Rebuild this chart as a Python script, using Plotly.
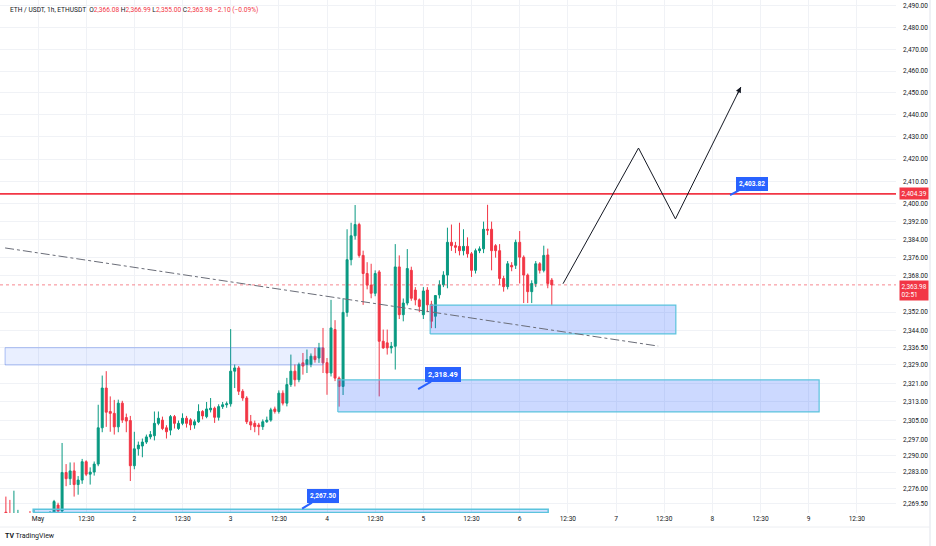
import math
import plotly.graph_objects as go

# ---------------- data ----------------
hours = list(range(-9, 129))  # hourly candles, 0 = May 1 00:00

opens = [2262, 2266, 2265, 2259, 2261, 2262, 2259, 2262, 2260,
         2263, 2259, 2262, 2263, 2265.5, 2269, 2266.5, 2282.8, 2280.2, 2283.5,
         2277.7, 2279.6, 2287.4, 2282.1, 2283, 2286.4, 2301.9, 2319, 2308.9, 2308.1,
         2302.3, 2312.5, 2306.3, 2305, 2285.7, 2292.9, 2294.1, 2295.8, 2298, 2298.5,
         2303.8, 2305.2, 2301.9, 2300.9, 2306.7, 2301.6, 2303.8, 2306, 2305.3, 2303.1,
         2304.5, 2308.9, 2306.7, 2309.6, 2310.3, 2306.4, 2311, 2311.8, 2312.2, 2326.3,
         2327.7, 2317.6, 2314.7, 2304.5, 2303.8, 2303.1, 2302.4, 2304.5, 2305.2, 2310,
         2308.9, 2316.8, 2312.5, 2320.5, 2326.3, 2322.6, 2329.9, 2329.2, 2329.2, 2332.8,
         2332, 2336.4, 2330, 2325.5, 2344.4, 2323.3, 2319.7, 2351.9, 2375.1, 2385.7,
         2390.7, 2377, 2369, 2363.9, 2360.3, 2369.7, 2339.3, 2338.6, 2336.4, 2337.1,
         2371.9, 2350.9, 2356, 2370.4, 2361.7, 2357.4, 2350.9, 2361.7, 2355.5, 2350.2,
         2359.6, 2364, 2368.3, 2382.8, 2381.3, 2381, 2379.1, 2381, 2377.7, 2370.4,
         2379.1, 2379.9, 2388.6, 2388.6, 2381.3, 2379.1, 2366.8, 2363.2, 2372.6, 2372.6,
         2382.8, 2376.2, 2368.3, 2361, 2364.6, 2373.3, 2370.4, 2377.2, 2366.08]
highs = [2264, 2272.6, 2271.2, 2275.1, 2267, 2264, 2264.5, 2266.5, 2267,
         2265, 2264, 2265, 2266.5, 2271.2, 2270, 2295.4, 2286.4, 2287.1, 2287.1,
         2281.3, 2288.6, 2288, 2285, 2287.5, 2311.8, 2324.4, 2326.3, 2315.4, 2313.9,
         2314, 2313.5, 2308, 2307, 2300.2, 2296, 2297.3, 2299, 2300.5, 2308.9,
         2308.9, 2306.7, 2303, 2307.4, 2307.4, 2305, 2308.1, 2307, 2306, 2305.5,
         2312, 2309.5, 2313, 2314.7, 2311, 2312, 2313, 2313.2, 2344.6, 2329.2,
         2328.5, 2318.5, 2315.5, 2307.4, 2305, 2304, 2305.5, 2306.7, 2310.5, 2311,
         2318, 2318, 2323.4, 2333.5, 2329.2, 2330, 2334.2, 2335.7, 2334, 2336.4,
         2338.6, 2345.1, 2332, 2357.4, 2348.5, 2324, 2358.1, 2388.6, 2391.5, 2399.4,
         2391.5, 2379.1, 2374, 2373.3, 2370.4, 2370.5, 2344.4, 2344.4, 2339, 2382,
         2377, 2358, 2379.8, 2372, 2363, 2358, 2363, 2363, 2357, 2359.5,
         2366, 2370, 2389.3, 2390.7, 2383, 2391.5, 2388.6, 2385, 2378.5, 2380,
         2381, 2392, 2399.5, 2392, 2382, 2382, 2368, 2374.5, 2374, 2384,
         2387.8, 2377, 2369, 2366, 2374.5, 2374, 2381.3, 2380, 2366.99]
lows = [2255, 2258, 2257, 2255, 2257, 2256, 2255, 2258, 2256,
        2256, 2254, 2258, 2259, 2264, 2264, 2265, 2277, 2277.5, 2272.6,
        2273.4, 2278, 2281.3, 2277.7, 2281.5, 2285.5, 2300, 2302.3, 2300.2, 2299,
        2300, 2304, 2300, 2279.2, 2284.2, 2290, 2289.3, 2295, 2297, 2296.5,
        2303, 2300.9, 2297.3, 2298.7, 2301.6, 2301, 2303, 2302, 2300.9, 2301.5,
        2304, 2305.5, 2306, 2308.5, 2304, 2305, 2310, 2310.5, 2311, 2319,
        2316, 2313.5, 2303.5, 2300.9, 2300, 2298.7, 2301, 2304, 2304.5, 2308,
        2308, 2311.5, 2311.1, 2319.5, 2319.7, 2321.5, 2324.8, 2325.5, 2328, 2330,
        2329.9, 2325.5, 2316.1, 2324, 2322, 2311, 2316, 2350, 2372.6, 2384,
        2376, 2355.2, 2362, 2358.1, 2359, 2315.4, 2336, 2333.5, 2334, 2327,
        2349, 2348, 2355, 2357, 2355, 2352, 2349, 2352, 2345, 2345,
        2358, 2363, 2362.5, 2379, 2378, 2377, 2377, 2376, 2367.5, 2369,
        2378, 2378, 2386, 2370.4, 2376, 2364, 2361, 2362, 2370, 2371,
        2364.6, 2356, 2356, 2356, 2363, 2369, 2369.5, 2362.5, 2355.00]
closes = [2258, 2260, 2259, 2263, 2263.5, 2259, 2262, 2260, 2263,
          2259, 2262, 2263, 2264, 2270.5, 2266.5, 2282.8, 2280.2, 2283.5, 2277.7,
          2279.6, 2287.4, 2282.1, 2283, 2286.4, 2301.9, 2319, 2308.6, 2308.1, 2302.3,
          2312.5, 2305.2, 2304.8, 2285.7, 2292.9, 2294.5, 2295.8, 2298, 2299, 2303.8,
          2306, 2301.6, 2300.2, 2306.7, 2303.8, 2303.8, 2306, 2303.8, 2303.1, 2304.5,
          2308.9, 2307, 2310, 2310.3, 2306.4, 2311, 2311.8, 2312.2, 2326.3, 2327.7,
          2317.6, 2314.7, 2304.5, 2303.1, 2302.4, 2302.4, 2304.5, 2305.2, 2309.6, 2308.9,
          2316.8, 2312.5, 2320.5, 2326.3, 2322.6, 2329.2, 2328.5, 2331.3, 2332.8, 2331.3,
          2336.4, 2329.9, 2325.5, 2345.1, 2323.3, 2319.7, 2351.9, 2375.1, 2385.7, 2390.7,
          2377, 2369, 2363.9, 2360.3, 2369, 2339.3, 2336.4, 2336.4, 2337.1, 2371.9,
          2350.9, 2356, 2371.2, 2358.1, 2357.4, 2354.5, 2361.3, 2355.2, 2348, 2359.3,
          2364, 2368.3, 2382.8, 2381.3, 2380.6, 2379.1, 2381, 2377.7, 2370.4, 2379.1,
          2379.9, 2388.6, 2388.2, 2379.1, 2379.1, 2366.8, 2363.2, 2373.3, 2371.9, 2382.8,
          2376.2, 2368.3, 2361, 2364.6, 2373.3, 2370.4, 2377, 2364.6, 2363.98]

x_tick_hours = [0, 12, 24, 36, 48, 60, 72, 84, 96, 108, 120, 132, 144, 156, 168, 180, 192, 204]
x_tick_text = ["May", "12:30", "2", "12:30", "3", "12:30", "4", "12:30", "5", "12:30",
               "6", "12:30", "7", "12:30", "8", "12:30", "9", "12:30"]
y_tick_vals = [2490, 2480, 2470, 2460, 2450, 2440, 2430, 2420, 2410, 2400, 2392, 2384,
               2376, 2368, 2352, 2344, 2336.5, 2329, 2321, 2313, 2305, 2297, 2290, 2283,
               2276, 2269.5]

resistance = 2404.39
last_price = 2363.98
# zones: (x_start_hour, x_end_hour, low, high)
zone_upper_left = (-8.2, 71.0, 2329.0, 2336.5)
zone_lower = (74.7, 194.6, 2308.7, 2322.5)
zone_mid = (97.7, 158.9, 2342.5, 2355.1)
band_bottom = (-1.2, 127.1, 2265.9, 2267.3)
trend_x = [-8.2, 154.5]
trend_y = [2380.3, 2337.2]
path_x = [130.8, 149.6, 158.8, 175.1]
path_y = [2364.5, 2425.0, 2393.2, 2452.7]
callouts = [(94.7, 2318.49, "2,318.49"), (65.8, 2267.50, "2,267.50"), (172.4, 2403.82, "2,403.82")]

GREEN = "#089981"
RED = "#f23645"
BLUE = "#2962ff"
TEXT = "#131722"
FONT = "Roboto"

fig = go.Figure()

fig.add_trace(go.Candlestick(
    x=hours, open=opens, high=highs, low=lows, close=closes,
    increasing=dict(line=dict(color=GREEN, width=1), fillcolor=GREEN),
    decreasing=dict(line=dict(color=RED, width=1), fillcolor=RED),
    whiskerwidth=0, hoverinfo="skip"))


def rect(z, fill, border, width=1):
    x0, x1, y0, y1 = z
    fig.add_trace(go.Scatter(x=[x0, x1, x1, x0, x0], y=[y0, y0, y1, y1, y0],
                             mode="lines", fill="toself", fillcolor=fill,
                             line=dict(color=border, width=width), hoverinfo="skip"))


rect(zone_upper_left, "rgba(41,98,255,0.10)", "rgba(80,120,230,0.45)")
rect(zone_lower, "rgba(41,98,255,0.24)", "#5bc3dd", 1.2)
rect(zone_mid, "rgba(41,98,255,0.24)", "#5bc3dd", 1.2)
rect(band_bottom, "rgba(41,98,255,0.2)", "#5bc3dd", 1.5)

# trend line
fig.add_trace(go.Scatter(x=trend_x, y=trend_y, mode="lines",
                         line=dict(color="#6a6d78", width=1, dash="dashdot"), hoverinfo="skip"))

# horizontal lines
xr = [-9.467, 213.75]
fig.add_trace(go.Scatter(x=xr, y=[resistance, resistance], mode="lines",
                         line=dict(color=RED, width=1.6), hoverinfo="skip"))
fig.add_trace(go.Scatter(x=xr, y=[last_price, last_price], mode="lines",
                         line=dict(color="rgba(242,54,69,0.6)", width=1, dash="dot"), hoverinfo="skip"))

# projection path
fig.add_trace(go.Scatter(x=path_x, y=path_y, mode="lines",
                         line=dict(color="#131722", width=1), hoverinfo="skip"))
fig.add_annotation(x=path_x[-1], y=math.log10(path_y[-1]), xref="x", yref="y",
                   text="", showarrow=True, arrowhead=2, arrowsize=1.1, arrowwidth=1,
                   arrowcolor="#131722", ax=-4.4, ay=9)

# callouts
offsets = {"2,318.49": (25, -14.5, 7.5), "2,267.50": (20.5, -12.5, 6.5), "2,403.82": (21.5, -11.5, 6.5)}
for cx, cy, txt in callouts:
    ax, ay, fs = offsets[txt]
    fig.add_annotation(x=cx, y=math.log10(cy), xref="x", yref="y", text="<b>" + txt + "</b>",
                       showarrow=True, arrowhead=0, arrowwidth=2, arrowcolor=BLUE,
                       ax=ax, ay=ay, bgcolor=BLUE, bordercolor=BLUE, borderpad=2,
                       font=dict(color="white", size=fs, family=FONT))

# price-scale labels
fig.add_annotation(x=1, y=math.log10(resistance), xref="paper", yref="y", xanchor="left",
                   xshift=3, text="2,404.39", showarrow=False, bgcolor=RED, borderpad=1.5,
                   font=dict(color="white", size=6.5, family=FONT))
fig.add_annotation(x=1, y=math.log10(last_price), xref="paper", yref="y", xanchor="left",
                   yanchor="top", yshift=5, xshift=3, text="2,363.98<br>02:51", showarrow=False,
                   bgcolor=RED, borderpad=1.5, align="left",
                   font=dict(color="white", size=6.5, family=FONT))

# header
hdr = ("ETH / USDT, 1h, ETHUSDT  O<span style='color:%s'>2,366.08</span> "
       "H<span style='color:%s'>2,366.99</span> L<span style='color:%s'>2,355.00</span> "
       "C<span style='color:%s'>2,363.98</span> <span style='color:%s'>−2.10 (−0.09%%)</span>"
       % (RED, RED, RED, RED, RED))
fig.add_annotation(x=8 / 896, y=1 - 10 / 513, xref="paper", yref="paper", xanchor="left",
                   yanchor="middle", text=hdr, showarrow=False,
                   font=dict(color=TEXT, size=6.6, family=FONT))
# footer logo
fig.add_annotation(x=3 / 896, y=-23 / 513, xref="paper", yref="paper", xanchor="left",
                   yanchor="middle", text="<b>TV</b> TradingView", showarrow=False,
                   font=dict(color=TEXT, size=7, family=FONT))

fig.add_shape(type="line", xref="paper", yref="paper", x0=930 / 896, x1=930 / 896, y0=-33 / 513, y1=1,
              line=dict(color="#e0e3eb", width=1))
fig.add_shape(type="line", xref="paper", yref="paper", x0=0, x1=930 / 896, y0=-14 / 513, y1=-14 / 513,
              line=dict(color="#eceef2", width=1))

fig.update_layout(
    width=936, height=546, margin=dict(l=0, r=40, t=0, b=33),
    paper_bgcolor="white", plot_bgcolor="white", showlegend=False,
    xaxis=dict(range=xr, tickvals=x_tick_hours, ticktext=x_tick_text, showgrid=True,
               gridcolor="#f0f2f6", zeroline=False, showline=False, ticks="",
               rangeslider=dict(visible=False), fixedrange=True,
               tickfont=dict(size=6.6, color=TEXT, family=FONT)),
    yaxis=dict(type="log", range=[3.355196, 3.396684], side="right", tickvals=y_tick_vals,
               ticktext=["{:,.2f}".format(v) for v in y_tick_vals], showgrid=True,
               gridcolor="#f0f2f6", zeroline=False, showline=False, ticks="",
               ticklabelstandoff=6, tickfont=dict(size=6.5, color=TEXT, family=FONT)),
)

fig.write_html("out.html")
